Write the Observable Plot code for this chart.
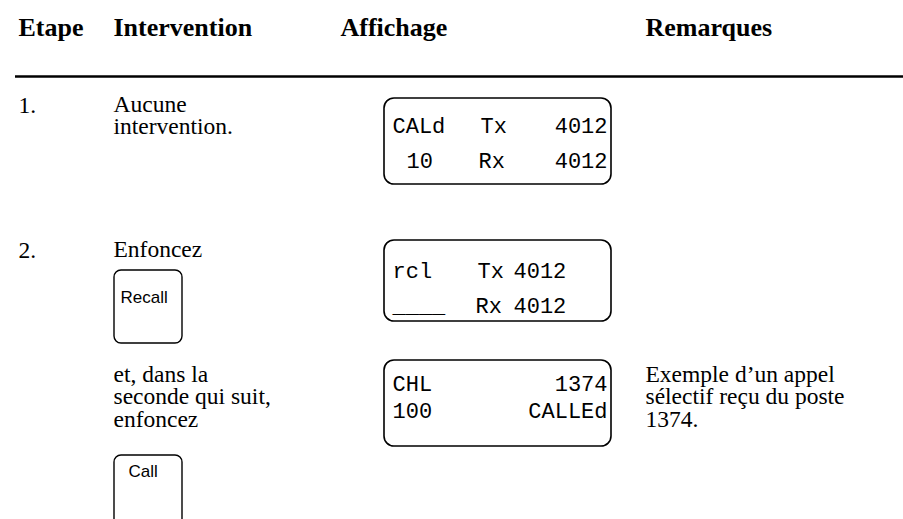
<!DOCTYPE html>
<html>
<head>
<meta charset="utf-8">
<script src="https://cdn.jsdelivr.net/npm/d3@7"></script>
<script src="https://cdn.jsdelivr.net/npm/@observablehq/plot@0.6"></script>
<style>
  html, body { margin: 0; padding: 0; background: #fff; overflow: hidden; }
</style>
</head>
<body>
<div id="chart"></div>
<script>
// ---- content ----
const headers = ["Etape", "Intervention", "Affichage", "Remarques"];
const steps = ["1.", "2."];
const intervention1 = ["Aucune", "intervention."];
const intervention2a = ["Enfoncez"];
const intervention2b = ["et, dans la", "seconde qui suit,", "enfoncez"];
const buttons = ["Recall", "Call"];
const lcd1 = [["CALd", "Tx", "4012"], ["10", "Rx", "4012"]];
const lcd2 = [["rcl", "Tx", "4012"], ["____", "Rx", "4012"]];
const lcd3 = [["CHL", "", "1374"], ["100", "", "CALLEd"]];
const remarks = ["Exemple d\u2019un appel", "s\u00e9lectif re\u00e7u du poste", "1374."];

// ---- layout (page coordinates) ----
const W = 903, H = 519;
const colX = [18, 113, 384, 645];
const headerX = [18, 113, 340, 645];
const lineGap = 22.5;
const serif = "Liberation Serif, Times New Roman, serif";
const mono = "Liberation Mono, DejaVu Sans Mono, monospace";

const headerRows = headers.map((t, i) => ({t, x: headerX[i], y: 35}));
const stepRows = steps.map((t, i) => ({t, x: colX[0], y: [112, 257][i]}));
const bodyRows = [
  ...intervention1.map((t, i) => ({t, x: colX[1], y: 111 + i * lineGap})),
  ...intervention2a.map((t, i) => ({t, x: colX[1], y: 256 + i * lineGap})),
  ...intervention2b.map((t, i) => ({t, x: colX[1], y: 381 + i * lineGap})),
  ...remarks.map((t, i) => ({t, x: colX[3], y: 381 + i * lineGap}))
];
const boxes = [
  {x1: 384, x2: 611, y1: 98, y2: 184},
  {x1: 384, x2: 611, y1: 240, y2: 321},
  {x1: 384, x2: 611, y1: 360, y2: 446}
];
const btnBoxes = [
  {x1: 114, x2: 182, y1: 270, y2: 343, lx: 120, ly: 297},
  {x1: 114, x2: 182, y1: 455, y2: 530, lx: 128, ly: 471}
];
const btnRows = buttons.map((t, i) => ({t, x: btnBoxes[i].lx, y: btnBoxes[i].ly}));

// LCD token placement: [x, anchor] per token column, and line y's
const lcdSpecs = [
  {data: lcd1, ys: [125, 160], cols: [[[392, "start"], [480, "start"], [607, "end"]], [[406, "start"], [478, "start"], [607, "end"]]]},
  {data: lcd2, ys: [270, 305], cols: [[[392, "start"], [477, "start"], [513, "start"]], [[392, "start"], [475, "start"], [513, "start"]]]},
  {data: lcd3, ys: [383, 410], cols: [[[392, "start"], [0, "start"], [607, "end"]], [[392, "start"], [0, "start"], [607, "end"]]]}
];
const lcdRows = [];
lcdSpecs.forEach(spec => {
  spec.data.forEach((line, li) => {
    line.forEach((tok, ti) => {
      if (!tok) return;
      const [x, a] = spec.cols[li][ti];
      lcdRows.push({t: tok, x, y: spec.ys[li], a});
    });
  });
});

const chart = Plot.plot({
  width: W,
  height: H,
  margin: 0,
  x: {domain: [0, W], range: [0, W], axis: null},
  y: {domain: [0, H], range: [0, H], axis: null},
  style: {background: "#fff", overflow: "hidden"},
  marks: [
    Plot.text(headerRows, {x: "x", y: "y", text: "t", textAnchor: "start", lineAnchor: "bottom",
      fontFamily: serif, fontWeight: "bold", fontSize: 26, fill: "#000"}),
    Plot.ruleY([76], {x1: 15, x2: W, stroke: "#000", strokeWidth: 2.4}),
    Plot.text(stepRows, {x: "x", y: "y", text: "t", textAnchor: "start", lineAnchor: "bottom",
      fontFamily: serif, fontSize: 23.5, fill: "#000"}),
    Plot.text(bodyRows, {x: "x", y: "y", text: "t", textAnchor: "start", lineAnchor: "bottom",
      fontFamily: serif, fontSize: 23.5, fill: "#000"}),
    Plot.rect(boxes, {x1: "x1", x2: "x2", y1: "y1", y2: "y2", rx: 10, fill: "none", stroke: "#000", strokeWidth: 1.6}),
    Plot.rect(btnBoxes, {x1: "x1", x2: "x2", y1: "y1", y2: "y2", rx: 7, fill: "none", stroke: "#000", strokeWidth: 1.4}),
    Plot.text(btnRows, {x: "x", y: "y", text: "t", textAnchor: "start", lineAnchor: "middle",
      fontFamily: "Liberation Sans, Arial, sans-serif", fontSize: 17, fill: "#000"}),
    Plot.text(lcdRows.filter(d => d.a === "start"), {x: "x", y: "y", text: "t", textAnchor: "start", lineAnchor: "middle",
      fontFamily: mono, fontSize: 22, fill: "#000"}),
    Plot.text(lcdRows.filter(d => d.a === "end"), {x: "x", y: "y", text: "t", textAnchor: "end", lineAnchor: "middle",
      fontFamily: mono, fontSize: 22, fill: "#000"})
  ]
});
document.getElementById("chart").appendChild(chart);
</script>
</body>
</html>
